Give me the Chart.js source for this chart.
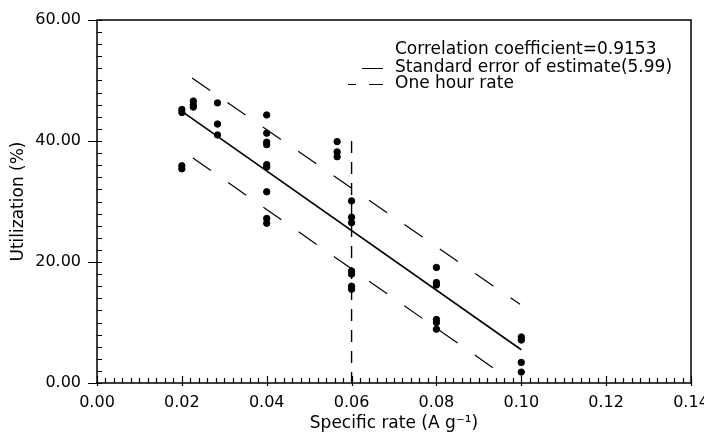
<!DOCTYPE html>
<html>
<head>
<meta charset="utf-8">
<script src="https://cdn.jsdelivr.net/npm/chart.js@4.4.1/dist/chart.umd.min.js"></script>
<style>
  html, body { margin: 0; padding: 0; background: #fff; }
  #wrap { width: 704px; height: 435px; }
</style>
</head>
<body>
<div id="wrap"><canvas id="c" width="704" height="435"></canvas></div>
<script>
// ---- data ----
const pointX = [
  0.02, 0.02, 0.02, 0.02,
  0.0227, 0.0227, 0.0227,
  0.0284, 0.0284, 0.0284,
  0.04, 0.04, 0.04, 0.04, 0.04, 0.04, 0.04, 0.04, 0.04,
  0.0566, 0.0566, 0.0566,
  0.06, 0.06, 0.06, 0.06, 0.06, 0.06, 0.06,
  0.08, 0.08, 0.08, 0.08, 0.08, 0.08,
  0.10, 0.10, 0.10, 0.10
];
const pointY = [
  45.2, 44.7, 35.9, 35.4,
  46.6, 46.0, 45.6,
  46.3, 42.8, 41.0,
  44.3, 41.3, 39.8, 39.4, 36.1, 35.7, 31.6, 27.2, 26.4,
  39.9, 38.2, 37.4,
  30.1, 27.4, 26.5, 18.5, 18.0, 16.0, 15.5,
  19.1, 16.6, 16.2, 10.5, 10.0, 8.9,
  7.6, 7.1, 3.4, 1.8
];
const fitX = [0.02, 0.10];
const fitY = [44.9, 5.5];
const upperX = [0.0224, 0.0997];
const upperY = [50.4, 13.0];
const lowerX = [0.0226, 0.095];
const lowerY = [37.2, 1.7];
const rateX = [0.06, 0.06];
const rateY = [40, 0];

const xTickValues = [0, 0.02, 0.04, 0.06, 0.08, 0.10, 0.12, 0.14];
const yTickValues = [0, 20, 40, 60];
const xMinorStep = 0.002;
const yMinorStep = 2;

const legendLines = [
  'Correlation coefficient=0.9153',
  'Standard error of estimate(5.99)',
  'One hour rate'
];
const xTitle = 'Specific rate (A g\u207B\u00B9)';
const yTitle = 'Utilization (%)';

// ---- build ----
const zip = (xs, ys) => xs.map((x, i) => ({x: x, y: ys[i]}));

const FONT = "'DejaVu Sans', sans-serif";

const frameAndTicks = {
  id: 'frameAndTicks',
  afterDraw(chart) {
    const ctx = chart.ctx;
    const a = chart.chartArea;
    const xs = chart.scales.x, ys = chart.scales.y;
    ctx.save();
    ctx.strokeStyle = '#000';
    ctx.lineWidth = 1.5;
    ctx.strokeRect(a.left, a.top, a.right - a.left, a.bottom - a.top);
    ctx.lineWidth = 1.2;
    ctx.beginPath();
    const nx = Math.round((xs.max - xs.min) / xMinorStep);
    for (let i = 0; i <= nx; i++) {
      const v = xs.min + i * xMinorStep;
      const px = Math.round(xs.getPixelForValue(v)) + 0.5;
      const major = i % 10 === 0;
      ctx.moveTo(px, a.bottom + (major ? 3 : 0));
      ctx.lineTo(px, a.bottom - (major ? 7 : 5));
    }
    const ny = Math.round((ys.max - ys.min) / yMinorStep);
    for (let i = 0; i <= ny; i++) {
      const v = ys.min + i * yMinorStep;
      const py = Math.round(ys.getPixelForValue(v)) + 0.5;
      const major = i % 10 === 0;
      ctx.moveTo(a.left - (major ? 9 : 0), py);
      ctx.lineTo(a.left + 5, py);
    }
    ctx.stroke();

    // legend
    ctx.fillStyle = '#000';
    ctx.font = "17px " + FONT;
    ctx.textBaseline = 'middle';
    ctx.textAlign = 'left';
    const lx = 395;
    const ly = [50, 68, 84];
    legendLines.forEach((t, i) => ctx.fillText(t, lx, ly[i]));
    ctx.lineWidth = 1.2;
    ctx.setLineDash([]);
    ctx.beginPath();
    ctx.moveTo(362, ly[1] + 0.5); ctx.lineTo(383, ly[1] + 0.5);
    ctx.moveTo(348, ly[2] + 0.5); ctx.lineTo(356, ly[2] + 0.5);
    ctx.moveTo(369, ly[2] + 0.5); ctx.lineTo(383, ly[2] + 0.5);
    ctx.stroke();
    ctx.restore();
  }
};

new Chart(document.getElementById('c'), {
  type: 'scatter',
  data: {
    datasets: [
      {
        label: 'data',
        data: zip(pointX, pointY),
        backgroundColor: '#000',
        borderColor: '#000',
        pointRadius: 3.2,
        pointHoverRadius: 3.2,
        showLine: false
      },
      {
        label: 'fit',
        data: zip(fitX, fitY),
        showLine: true,
        borderColor: '#000',
        borderWidth: 1.6,
        pointRadius: 0
      },
      {
        label: 'upper',
        data: zip(upperX, upperY),
        showLine: true,
        borderColor: '#000',
        borderWidth: 1.2,
        borderDash: [22, 21],
        pointRadius: 0
      },
      {
        label: 'lower',
        data: zip(lowerX, lowerY),
        showLine: true,
        borderColor: '#000',
        borderWidth: 1.2,
        borderDash: [22, 21],
        pointRadius: 0
      },
      {
        label: 'rate',
        data: zip(rateX, rateY),
        showLine: true,
        borderColor: '#000',
        borderWidth: 1.4,
        borderDash: [12, 9],
        pointRadius: 0
      }
    ]
  },
  options: {
    responsive: false,
    animation: false,
    layout: { padding: { top: 20, right: 13, left: 0, bottom: 0 } },
    plugins: { legend: { display: false }, tooltip: { enabled: false } },
    scales: {
      x: {
        type: 'linear',
        min: 0, max: 0.14,
        afterBuildTicks: s => { s.ticks = xTickValues.map(v => ({value: v})); },
        afterFit: s => { s.height = 52; s.paddingLeft = 0; s.paddingRight = 0; },
        grid: { display: false, drawTicks: false },
        border: { display: false },
        ticks: {
          color: '#000',
          font: { family: FONT, size: 16 },
          padding: 10,
          maxRotation: 0,
          autoSkip: false,
          callback: v => Number(v).toFixed(2)
        },
        title: {
          display: true,
          text: xTitle,
          color: '#000',
          font: { family: FONT, size: 17 },
          padding: { top: 0, bottom: 1 }
        }
      },
      y: {
        type: 'linear',
        min: 0, max: 60,
        afterBuildTicks: s => { s.ticks = yTickValues.map(v => ({value: v})); },
        afterFit: s => { s.width = 97; s.paddingTop = 0; s.paddingBottom = 0; },
        grid: { display: false, drawTicks: false },
        border: { display: false },
        ticks: {
          color: '#000',
          font: { family: FONT, size: 16 },
          padding: 16,
          autoSkip: false,
          callback: v => Number(v).toFixed(2)
        },
        title: {
          display: true,
          text: yTitle,
          color: '#000',
          font: { family: FONT, size: 17 },
          padding: { top: 8, bottom: 0 }
        }
      }
    }
  },
  plugins: [frameAndTicks]
});
</script>
</body>
</html>
